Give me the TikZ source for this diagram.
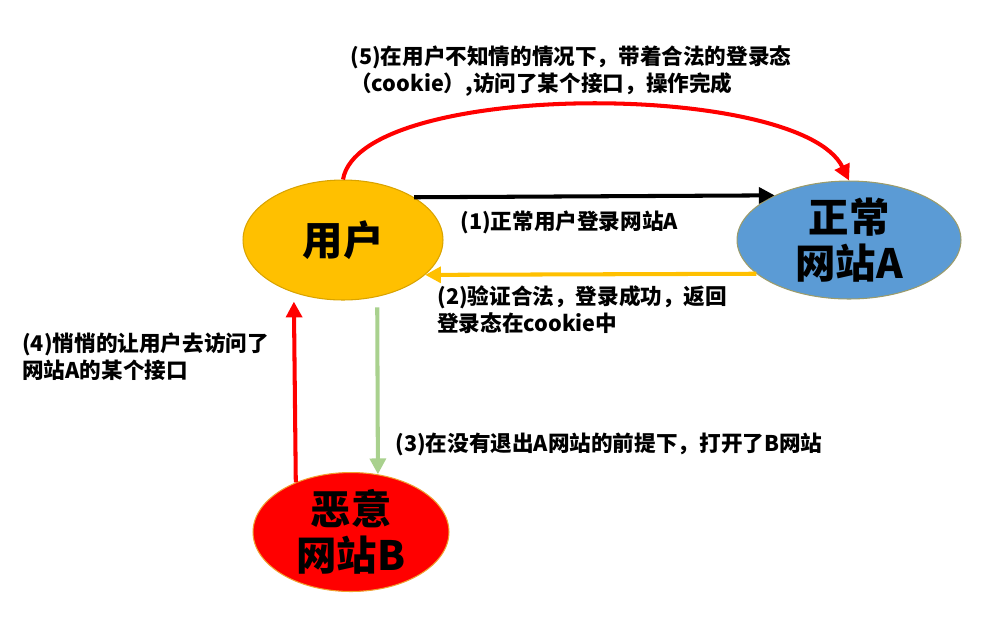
\documentclass[tikz,border=0pt]{standalone}
\usepackage{fontspec}
\newfontfamily\cjk{Noto Sans CJK SC}
\usepackage{tikz}
\usetikzlibrary{arrows.meta,shapes.geometric}
\definecolor{cUser}{HTML}{FFC000}
\definecolor{cUserEdge}{HTML}{D9A300}
\definecolor{cSiteA}{HTML}{5B9BD5}
\definecolor{cSiteAEdge}{HTML}{9C9C6A}
\definecolor{cSiteB}{HTML}{FF0000}
\definecolor{cSiteBEdge}{HTML}{F0A030}
\definecolor{cOk}{HTML}{A9D18E}
\definecolor{cBad}{HTML}{FF0000}

\begin{document}
\begin{tikzpicture}[x=0.02cm,y=-0.02cm,
  site/.style={ellipse,inner sep=0pt,line width=0.6pt},
  big/.style={font=\cjk\bfseries\fontsize{23}{26}\selectfont,align=center,inner sep=0pt},
  lbl/.style={font=\cjk\bfseries\fontsize{12.3}{15.5}\selectfont,align=left,anchor=west,inner sep=0pt},
  flow/.style={line width=2.3pt,-{Triangle[length=9pt,width=9pt]}}]
  \useasboundingbox (0,0) rectangle (1000,627);
  % the three parties
  \node[site,fill=cUser,draw=cUserEdge,minimum width=4cm,minimum height=2.4cm,
        label={[big]center:用户}] (user) at (343,240) {};
  \node[site,fill=cSiteA,draw=cSiteAEdge,minimum width=4.48cm,minimum height=2.36cm,
        label={[big]center:正常\\网站A}] (siteA) at (849,240) {};
  \node[site,fill=cSiteB,draw=cSiteBEdge,minimum width=3.92cm,minimum height=2.38cm,
        label={[big]center:恶意\\网站B}] (siteB) at (351,532) {};

  % steps (1)-(5)
  \draw[flow,black] (user.31.6) -- (siteA.149.6);
  \draw[flow,cUser] (siteA.200.3) -- (user.337.5);
  \draw[flow,cOk,shorten <=6pt] (user.301.3) -- (siteB.65.9);
  \draw[flow,cBad,shorten >=5pt] (siteB.138.8) -- (user.227.6);
  \draw[flow,cBad] (user.north) .. controls (360,80) and (800,80) .. (siteA.north);

  \node[lbl] (stepone) at (460,222) {(1)正常用户登录网站A};
  \node[lbl] (steptwo) at (437,310) {(2)验证合法，登录成功，返回\\登录态在cookie中};
  \node[lbl] (stepthree) at (395,444) {(3)在没有退出A网站的前提下，打开了B网站};
  \node[lbl] (stepfour) at (22,357) {(4)悄悄的让用户去访问了\\网站A的某个接口};
  \node[lbl] (stepfive) at (350,71) {(5)在用户不知情的情况下，带着合法的登录态\\（cookie）,访问了某个接口，操作完成};
\end{tikzpicture}
\end{document}
